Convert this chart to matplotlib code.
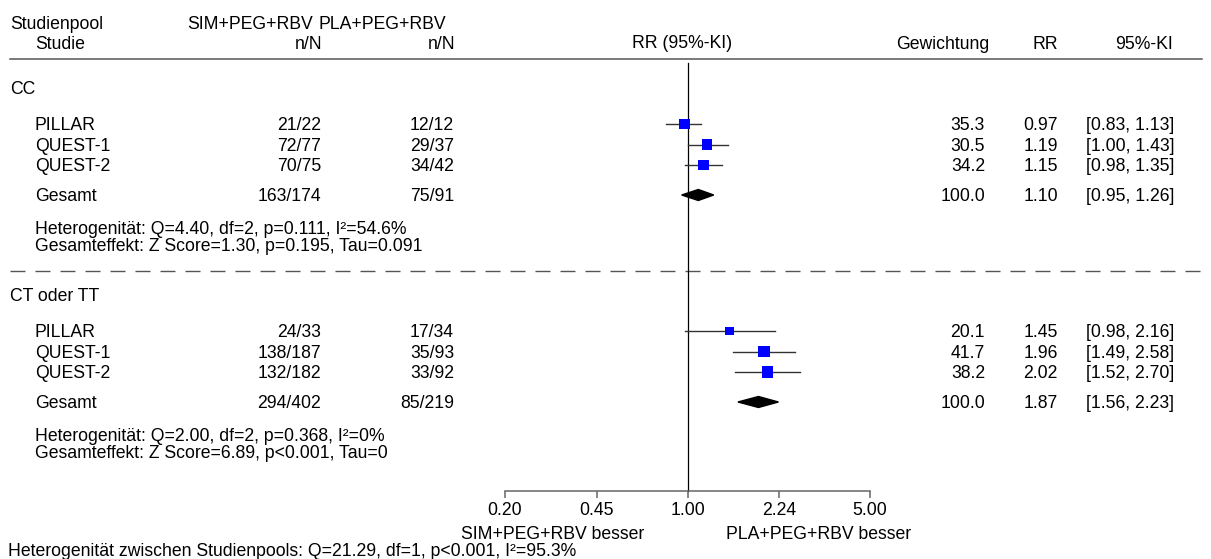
import numpy as np
import matplotlib
matplotlib.use("Agg")
import matplotlib.pyplot as plt
from matplotlib.ticker import NullLocator

plt.rcParams['font.family'] = ['Liberation Sans', 'DejaVu Sans']
FS = 12.7

# Daten
groups = ["CC", "CT oder TT"]
studies = ["PILLAR", "QUEST-1", "QUEST-2"]
sim_nN = [["21/22", "72/77", "70/75"], ["24/33", "138/187", "132/182"]]
pla_nN = [["12/12", "29/37", "34/42"], ["17/34", "35/93", "33/92"]]
weights = [[35.3, 30.5, 34.2], [20.1, 41.7, 38.2]]
rr = [[0.97, 1.19, 1.15], [1.45, 1.96, 2.02]]
rr_lo = [[0.83, 1.00, 0.98], [0.98, 1.49, 1.52]]
rr_hi = [[1.13, 1.43, 1.35], [2.16, 2.58, 2.70]]

sim_total = ["163/174", "294/402"]
pla_total = ["75/91", "85/219"]
pool_rr = [1.10, 1.87]
pool_lo = [0.95, 1.56]
pool_hi = [1.26, 2.23]

het_text = ["Heterogenität: Q=4.40, df=2, p=0.111, I²=54.6%",
            "Heterogenität: Q=2.00, df=2, p=0.368, I²=0%"]
eff_text = ["Gesamteffekt: Z Score=1.30, p=0.195, Tau=0.091",
            "Gesamteffekt: Z Score=6.89, p<0.001, Tau=0"]
between_text = "Heterogenität zwischen Studienpools: Q=21.29, df=1, p<0.001, I²=95.3%"

xticks = [0.20, 0.45, 1.00, 2.24, 5.00]

W, H = 1211, 559
fig = plt.figure(figsize=(W / 100, H / 100), dpi=100)
ax = fig.add_axes([0, 0, 1, 1])
ax.set_xlim(0, W)
ax.set_ylim(H, 0)
ax.axis("off")

# forest-Achse (log), 0.2 -> 505 px, 5 -> 870 px
ax2 = fig.add_axes([505 / W, 0, 365 / W, 1])
ax2.set_xscale("log")
ax2.set_xlim(0.2, 5)
ax2.set_ylim(H, 0)
ax2.patch.set_visible(False)
for s in ["top", "left", "right"]:
    ax2.spines[s].set_visible(False)
ax2.spines["bottom"].set_position(("data", 491))
ax2.spines["bottom"].set_color("#666666")
ax2.spines["bottom"].set_linewidth(1.1)
ax2.set_xticks(xticks)
ax2.set_xticklabels([f"{t:.2f}" for t in xticks], fontsize=FS)
ax2.xaxis.set_minor_locator(NullLocator())
ax2.tick_params(axis="x", direction="out", length=5, width=1.1, color="#666666", pad=3)
ax2.set_yticks([])


def txt(x, y, s, ha="left"):
    # y = Mitte der Großbuchstaben
    ax.text(x, y + 6.3, s, ha=ha, va="baseline", fontsize=FS)


# Kopf
txt(10, 23, "Studienpool")
txt(35, 43, "Studie")
txt(313, 23, "SIM+PEG+RBV", ha="right")
txt(446, 23, "PLA+PEG+RBV", ha="right")
txt(322, 43, "n/N", ha="right")
txt(455, 43, "n/N", ha="right")
txt(682, 42, "RR (95%-KI)", ha="center")
txt(989, 43, "Gewichtung", ha="right")
txt(1058, 43, "RR", ha="right")
txt(1173, 43, "95%-KI", ha="right")
ax.plot([10, 1202], [59, 59], color="#555555", lw=1.1)

# Referenzlinie
ax2.plot([1, 1], [63, 491], color="black", lw=0.9)

group_y = [88, 295]
study_off = [36, 56.5, 77]
for g, gy in enumerate(group_y):
    txt(10, gy, groups[g])
    for i, st in enumerate(studies):
        y = gy + study_off[i]
        txt(35, y, st)
        txt(321, y, sim_nN[g][i], ha="right")
        txt(454, y, pla_nN[g][i], ha="right")
        txt(985, y, f"{weights[g][i]:.1f}", ha="right")
        txt(1058, y, f"{rr[g][i]:.2f}", ha="right")
        txt(1174, y, f"[{rr_lo[g][i]:.2f}, {rr_hi[g][i]:.2f}]", ha="right")
        ax2.plot([rr_lo[g][i], rr_hi[g][i]], [y, y], color="#333333", lw=1.0, zorder=2)
        side = 1.85 * np.sqrt(weights[g][i]) * 0.72
        ax2.scatter([rr[g][i]], [y], marker="s", s=side ** 2, color="#0000ff",
                    edgecolors="none", zorder=3, clip_on=False)
    yt = gy + 107
    txt(35, yt, "Gesamt")
    txt(321, yt, sim_total[g], ha="right")
    txt(454, yt, pla_total[g], ha="right")
    txt(985, yt, "100.0", ha="right")
    txt(1058, yt, f"{pool_rr[g]:.2f}", ha="right")
    txt(1174, yt, f"[{pool_lo[g]:.2f}, {pool_hi[g]:.2f}]", ha="right")
    ax2.fill([pool_lo[g], pool_rr[g], pool_hi[g], pool_rr[g]],
             [yt, yt - 5.5, yt, yt + 5.5], color="black", zorder=3)
    txt(35, gy + 140, het_text[g])
    txt(35, gy + 157, eff_text[g])

# Trennlinie zwischen den Pools
ax.plot([10, 1202], [271, 271], color="#555555", lw=1.0, linestyle=(0, (10.8, 7.2)))

# Achsenbeschriftung
txt(553, 533, "SIM+PEG+RBV besser", ha="center")
txt(819, 533, "PLA+PEG+RBV besser", ha="center")
txt(8, 550, between_text)

fig.savefig("out.png", dpi=100)
